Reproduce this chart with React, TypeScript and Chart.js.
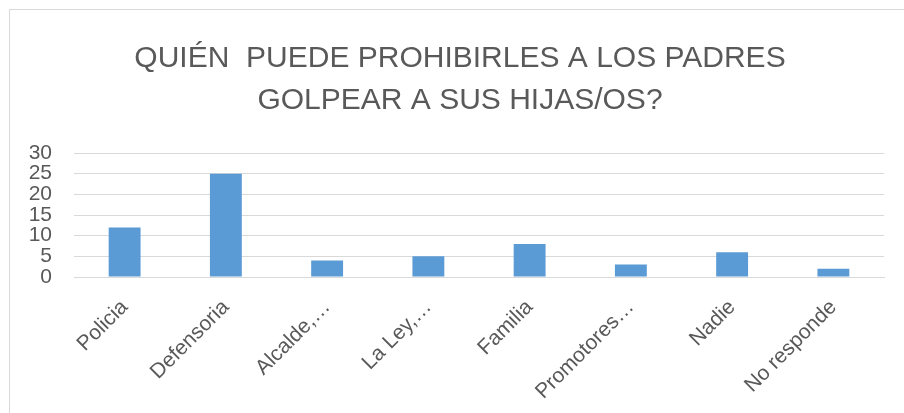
import React, { useEffect, useRef } from "react";
import { Chart, registerables } from "chart.js";

Chart.register(...registerables);

const titleLines = ["QUIÉN  PUEDE PROHIBIRLES A LOS PADRES", "GOLPEAR A SUS HIJAS/OS?"];
const categories = ["Policia", "Defensoria", "Alcalde,…", "La Ley,…", "Familia", "Promotores…", "Nadie", "No responde"];
const values = [12, 25, 4, 5, 8, 3, 6, 2];
const yMin = 0;
const yMax = 30;
const yStep = 5;

export default function App() {
  const ref = useRef<HTMLCanvasElement | null>(null);
  useEffect(() => {
    if (!ref.current) return;
    const font = "Liberation Sans, Arial, sans-serif";
    const chart = new Chart(ref.current, {
      type: "bar",
      data: {
        labels: categories,
        datasets: [
          {
            data: values,
            backgroundColor: "#5B9BD5",
            borderWidth: 0,
            categoryPercentage: 1,
            barPercentage: 0.315,
          },
        ],
      },
      options: {
        animation: false,
        responsive: false,
        maintainAspectRatio: false,
        layout: { padding: { top: 9, left: 26, right: 10, bottom: 0 } },
        plugins: {
          legend: { display: false },
          tooltip: { enabled: false },
          title: {
            display: true,
            text: titleLines,
            color: "#595959",
            font: { family: font, size: 30, weight: "normal", lineHeight: 1.4 },
            padding: { top: 29, bottom: 31 },
          },
        },
        scales: {
          x: {
            grid: { display: false },
            border: { display: true, color: "#d9d9d9", width: 1 },
            ticks: {
              color: "#595959",
              font: { family: font, size: 21 },
              maxRotation: 45,
              minRotation: 45,
              autoSkip: false,
              padding: 10,
            },
            afterFit: (s: any) => {
              s.height = 136;
            },
          },
          y: {
            min: yMin,
            max: yMax,
            grid: { color: "#d9d9d9", drawTicks: false },
            border: { display: false },
            ticks: {
              stepSize: yStep,
              autoSkip: false,
              color: "#595959",
              font: { family: font, size: 21, lineHeight: 1 },
              padding: 22,
            },
            afterFit: (s: any) => {
              s.width = 48;
            },
          },
          yr: {
            position: "right",
            display: true,
            min: yMin,
            max: yMax,
            grid: { display: false, drawTicks: false },
            border: { display: false },
            ticks: { display: false },
            afterFit: (s: any) => {
              s.width = 10;
            },
          },
        },
      },
    });
    return () => chart.destroy();
  }, []);
  return (
    <div style={{ position: "fixed", left: 0, top: 0, width: 904, height: 413, background: "#fff" }}>
      <div
        style={{
          position: "absolute",
          left: 9,
          top: 9,
          width: 900,
          height: 410,
          borderLeft: "1px solid #d9d9d9",
          borderTop: "1px solid #d9d9d9",
        }}
      />
      <canvas ref={ref} width={904} height={413} style={{ position: "absolute", left: 0, top: 0 }} />
    </div>
  );
}
